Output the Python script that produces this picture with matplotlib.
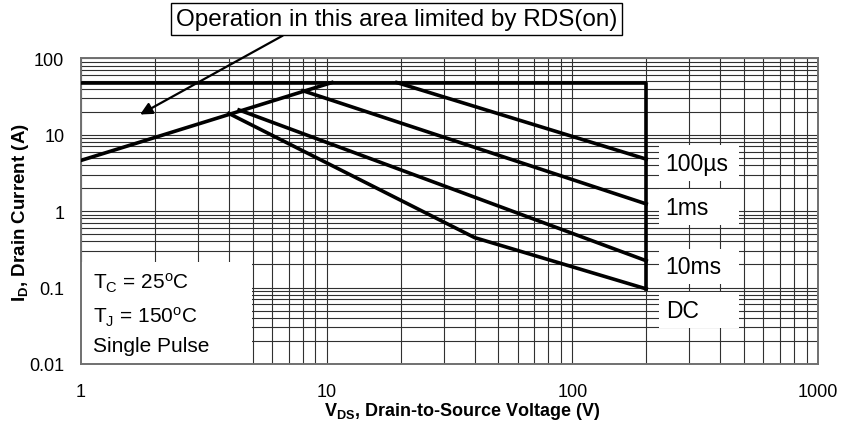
import matplotlib
matplotlib.use("Agg")
import matplotlib.pyplot as plt
from matplotlib.patches import Rectangle

plt.rcParams['font.family'] = ['Liberation Sans', 'DejaVu Sans']
plt.rcParams['mathtext.fontset'] = 'custom'
plt.rcParams['mathtext.rm'] = 'Liberation Sans'
plt.rcParams['mathtext.it'] = 'Liberation Sans:italic'
plt.rcParams['mathtext.bf'] = 'Liberation Sans:bold'

# Data
rds_v = [1, 10.5]
rds_i = [4.6, 48]
limit_v = [1, 200, 200]
limit_i = [48, 48, 0.096]
us100_v = [19.3, 200]
us100_i = [48, 4.78]
ms1_v = [8.0, 200]
ms1_i = [37.5, 1.24]
ms10_v = [4.4, 200]
ms10_i = [21.0, 0.224]
dc_v = [4.0, 40, 200]
dc_i = [18.9, 0.45, 0.096]

curve_names = ["100\u00b5s", "1ms", "10ms", "DC"]
name_y = [4.24, 1.13, 0.188, 0.0508]

x_ticks = [1, 10, 100, 1000]
x_labels = ["1", "10", "100", "1000"]
y_ticks = [0.01, 0.1, 1, 10, 100]
y_labels = ["0.01", "0.1", "1", "10", "100"]

fig = plt.figure(figsize=(8.45, 4.35), dpi=100)
ax = fig.add_axes([0.0959, 0.161, 0.872, 0.703])
ax.set_xscale("log")
ax.set_yscale("log")
ax.set_xlim(1, 1000)
ax.set_ylim(0.01, 100)

ax.set_xticks(x_ticks)
ax.set_xticklabels(x_labels)
ax.set_yticks(y_ticks)
ax.set_yticklabels(y_labels)
ax.tick_params(which="both", length=0, labelsize=13)
ax.tick_params(axis="x", pad=14)
ax.tick_params(axis="y", pad=12)
ax.grid(True, which="both", color="#303030", lw=0.8)
for s in ax.spines.values():
    s.set_color("#707070")
    s.set_linewidth(1.4)

# curves
lw = 2.6
ax.plot(rds_v, rds_i, color="black", lw=lw, zorder=3)
ax.plot(limit_v, limit_i, color="black", lw=lw, zorder=3)
ax.plot(us100_v, us100_i, color="black", lw=lw, zorder=3)
ax.plot(ms1_v, ms1_i, color="black", lw=lw, zorder=3)
ax.plot(ms10_v, ms10_i, color="black", lw=lw, zorder=3)
ax.plot(dc_v, dc_i, color="black", lw=lw, zorder=3)

# curve labels on white patches
for name, y in zip(curve_names, name_y):
    ax.add_patch(Rectangle((225, y / 1.7), 476 - 225, y * 1.7 - y / 1.7,
                           facecolor="white", edgecolor="none", zorder=2))
    ax.text(240, y, name, fontsize=16.5, va="center", ha="left", zorder=4)

# conditions box
ax.add_patch(Rectangle((0, 0), 0.232, 0.333, transform=ax.transAxes,
                       facecolor="white", edgecolor="none", zorder=2))
ax.text(0.016, 0.268, r"T$_\mathrm{C}$ = 25$^\mathrm{o}$C", transform=ax.transAxes,
        fontsize=15, va="center", zorder=4)
ax.text(0.016, 0.157, r"T$_\mathrm{J}$ = 150$^\mathrm{o}$C", transform=ax.transAxes,
        fontsize=15, va="center", zorder=4)
ax.text(0.016, 0.059, "Single Pulse", transform=ax.transAxes,
        fontsize=15, va="center", zorder=4)

# RDS(on) note with arrow
fig.text(0.469, 0.954, "Operation in this area limited by RDS(on)", fontsize=17.5,
         ha="center", va="center",
         bbox=dict(boxstyle="square,pad=0.2", facecolor="white", edgecolor="black", lw=1))
ax.annotate("", xy=(1.70, 17.6), xytext=(0.277, 1.078), textcoords="axes fraction",
            arrowprops=dict(arrowstyle="-|>", color="black", lw=1.6, mutation_scale=18),
            zorder=5, annotation_clip=False)

ax.set_xlabel(r"$\mathbf{V_{DS}}$, Drain-to-Source Voltage (V)", fontsize=13,
              fontweight="bold", labelpad=0)
ax.xaxis.label.set_x(0.517)
ax.set_ylabel(r"$\mathbf{I_{D}}$, Drain Current (A)", fontsize=13.5,
              fontweight="bold", labelpad=-1)

fig.savefig("out.png", dpi=100)
